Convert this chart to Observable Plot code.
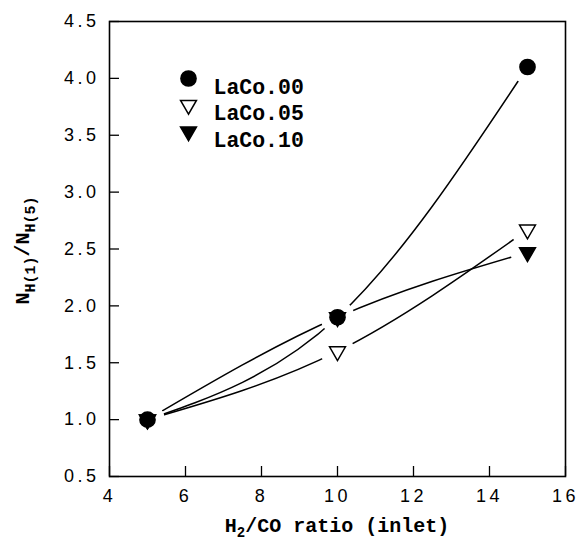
<!DOCTYPE html>
<html>
<head>
<meta charset="utf-8">
<script src="https://cdn.jsdelivr.net/npm/d3@7"></script>
<script src="https://cdn.jsdelivr.net/npm/@observablehq/plot@0.6"></script>
<style>
  html, body { margin: 0; padding: 0; background: white; }
  #chart svg g[aria-label="x-axis tick label"] text,
  #chart svg g[aria-label="y-axis tick label"] text { letter-spacing: 3.5px; }
</style>
</head>
<body>
<div id="chart"></div>
<script>
// ---- data ----
const xValues = [5, 10, 15];
const seriesNames = ["LaCo.00", "LaCo.05", "LaCo.10"];
const laco00 = [1.0, 1.9, 4.1];
const laco05 = [1.0, 1.6, 2.67];
const laco10 = [1.0, 1.9, 2.47];
const xTicks = [4, 6, 8, 10, 12, 14, 16];
const yTicks = [0.5, 1.0, 1.5, 2.0, 2.5, 3.0, 3.5, 4.0, 4.5];

// ---- build table ----
const seriesValues = [laco00, laco05, laco10];
const rows = [];
seriesNames.forEach((name, i) => {
  xValues.forEach((x, j) => rows.push({series: name, x, y: seriesValues[i][j]}));
});

const W = 578, H = 541;
const margin = {top: 21, right: 13, bottom: 65, left: 109};
const frameW = W - margin.left - margin.right;
const frameH = H - margin.top - margin.bottom;

// marker styles per series
const markerStyle = {
  "LaCo.00": {symbol: "circle", r: 7.6, fill: "black", stroke: "black", rotate: 0},
  "LaCo.05": {symbol: "triangle", r: 5.9, fill: "white", stroke: "black", rotate: 180},
  "LaCo.10": {symbol: "triangle", r: 5.9, fill: "black", stroke: "black", rotate: 180}
};

const monoFont = "'Liberation Mono', 'DejaVu Sans Mono', monospace";

const marks = [
  Plot.frame({stroke: "black", strokeWidth: 1.6}),
  Plot.axisX(xTicks, {tickSize: 0, tickPadding: 13, tickFormat: d3.format("d"), label: null}),
  Plot.axisY(yTicks, {tickSize: 0, tickPadding: 10, tickFormat: d3.format(".1f"), label: null}),
  Plot.tickX(xTicks, {x: d => d, insetTop: frameH - 10, stroke: "black", strokeWidth: 1.3}),
  Plot.tickY(yTicks, {y: d => d, insetRight: frameW - 10, stroke: "black", strokeWidth: 1.3}),
  Plot.line(rows, {x: "x", y: "y", z: "series", curve: "monotone-x", stroke: "black", strokeWidth: 1.5}),
  Plot.dot(rows, {x: "x", y: "y", r: 17, fill: "white", stroke: null})
];

seriesNames.forEach((name, i) => {
  const s = markerStyle[name];
  marks.push(Plot.dot(rows.filter(d => d.series === name), {
    x: "x", y: "y", symbol: s.symbol, r: s.r, fill: s.fill, stroke: s.stroke,
    strokeWidth: 1.5, rotate: s.rotate
  }));
  // legend row
  marks.push(Plot.dot([name], {
    frameAnchor: "top-left", dx: 79, dy: 57 + i * 26.5,
    symbol: s.symbol, r: s.r, fill: s.fill, stroke: s.stroke, strokeWidth: 1.5, rotate: s.rotate
  }));
  marks.push(Plot.text([name], {
    frameAnchor: "top-left", dx: 104, dy: 57 + i * 26.5, text: d => d,
    textAnchor: "start", fontFamily: monoFont, fontWeight: "bold", fontSize: 21.5, fill: "black"
  }));
});

const chart = Plot.plot({
  width: W,
  height: H,
  marginTop: margin.top,
  marginRight: margin.right,
  marginBottom: margin.bottom,
  marginLeft: margin.left,
  x: {domain: [4, 16]},
  y: {domain: [0.5, 4.5]},
  style: {
    fontFamily: "'Liberation Sans', Arial, sans-serif",
    fontSize: "18px",
    color: "black",
    background: "white",
    overflow: "visible"
  },
  marks
});

document.getElementById("chart").appendChild(chart);

// ---- axis titles with subscripts ----
const svg = d3.select(chart);
const xl = svg.append("text")
  .attr("x", margin.left + frameW / 2)
  .attr("y", H - 9)
  .attr("text-anchor", "middle")
  .attr("font-family", monoFont)
  .attr("font-weight", "bold")
  .attr("font-size", 20)
  .attr("fill", "black");
xl.append("tspan").text("H");
xl.append("tspan").attr("font-size", 14).attr("dy", 5).text("2");
xl.append("tspan").attr("dy", -5).text("/CO ratio (inlet)");

const yl = svg.append("text")
  .attr("transform", `translate(29,${margin.top + frameH / 2 + 2}) rotate(-90)`)
  .attr("text-anchor", "middle")
  .attr("font-family", monoFont)
  .attr("font-weight", "bold")
  .attr("font-size", 20)
  .attr("fill", "black");
yl.append("tspan").text("N");
yl.append("tspan").attr("font-size", 15).attr("dy", 6).text("H(1)");
yl.append("tspan").attr("dy", -6).text("/N");
yl.append("tspan").attr("font-size", 15).attr("dy", 6).text("H(5)");
</script>
</body>
</html>
